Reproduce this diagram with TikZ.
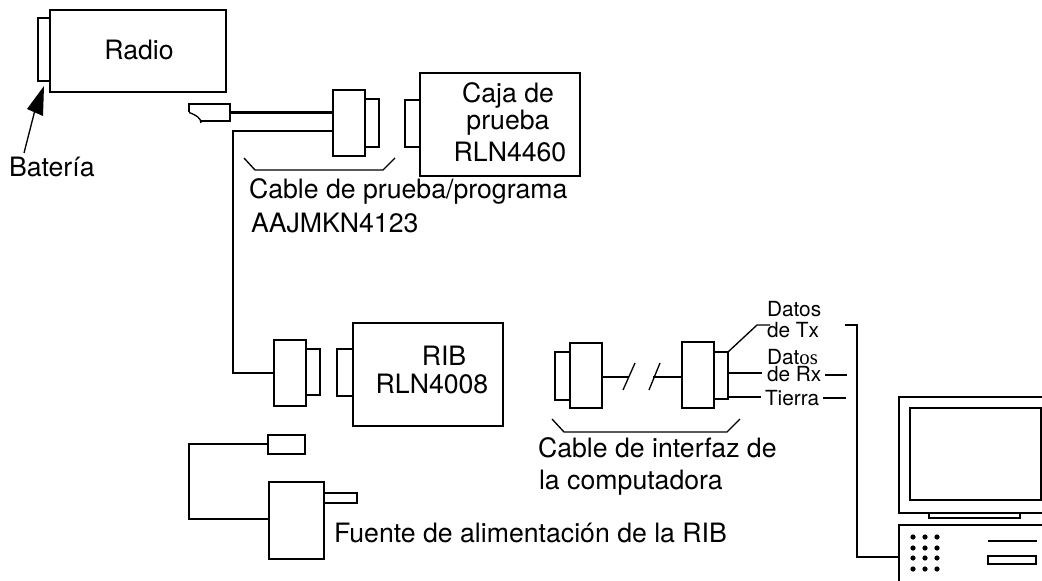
\documentclass[tikz,border=0pt]{standalone}
\usepackage{fontspec}
\setmainfont{TeX Gyre Heros}
\newfontfamily\serifos{Liberation Serif}
\newcommand{\bx}[6][]{%
  \node[boxpart,#1,minimum width={(#5-#3)*0.75pt},minimum height={(#6-#4)*0.75pt}] (#2) at ({(#3+#5)/2},{(#4+#6)/2}) {};}
\tikzset{
  boxpart/.style={draw=black,line width=1.7pt,inner sep=0pt,outer sep=0pt,rectangle},
  wire/.style={draw=black,line width=1.7pt},
  thinwire/.style={draw=black,line width=1.0pt},
  big/.style={font=\fontsize{20}{22}\selectfont,inner sep=0pt,outer sep=0pt},
  small/.style={font=\fontsize{15.6}{18}\selectfont,inner sep=0pt,outer sep=0pt},
  pcdot/.style={fill=black,draw=none}
}
\begin{document}
\begin{tikzpicture}[x=0.75pt,y=-0.75pt,line join=miter]
\useasboundingbox (0,0) rectangle (1042,581);
% radio
\bx{batt}{38}{18}{50}{81}
\bx{radio}{50}{10}{226}{92}
\node[big,anchor=base] (radiot) at (139,60) {Radio};
\node[big,anchor=base west] (batt2) at (9,176) {Batería};
\coordinate (battip) at (44,86);
\fill[black] (battip) -- (27,109) -- (43,116) -- cycle;
\draw[thinwire] (24,153) -- (35,110);
% plug
\bx[draw=none]{plugA}{189}{104}{230}{121}
\draw[wire] (plugA.west) -- (plugA.north west) -- (plugA.north east) -- (plugA.south east) -- (201,121);
\draw[thinwire] (plugA.west) .. controls (196,115) and (201,118) .. (201,123);
% test cable connector
\bx{connA}{333}{90}{365}{156}
\bx{connAs}{365}{99}{379}{147}
\draw[wire] (plugA.east) -- (connA.west |- plugA.east);
\coordinate (j1) at (233,131);
\bx{connB}{274}{340}{306}{406}
\bx{connBs}{306}{349}{320}{395}
\draw[wire] (connA.west |- j1) -- (j1) |- (connB.west);
% test box
\bx{boxtab}{405}{100}{420}{147}
\bx{caja}{420}{73}{580}{176}
\node[big,anchor=base] (caja1) at (508,103) {Caja de};
\node[big,anchor=base] (caja2) at (508,130) {prueba};
\node[big,anchor=base] (caja3) at (510,162) {RLN4460};
\draw[thinwire] (244,158) -- (255,170) -- (383,170) -- (395,158);
\node[big,anchor=base west] (cab1) at (249,199) {Cable de prueba/programa};
\node[big,anchor=base west] (cab2) at (251,232) {AAJMKN4123};
% RIB
\bx{ribtab}{337}{349}{353}{396}
\bx{rib}{353}{323}{503}{426}
\node[big,anchor=base] (rib1) at (444,365) {RIB};
\node[big,anchor=base] (rib2) at (432,393) {RLN4008};
% power
\bx{pplug}{268}{435}{305}{454}
\bx{psu}{269}{482}{324}{559}
\bx{prong}{324}{493}{357}{503}
\coordinate (j2) at (189,444);
\draw[wire] (pplug.west |- j2) -- (j2) |- (psu.west |- 0,519);
\node[big,anchor=base west] (fuente) at (334,542) {Fuente de alimentación de la RIB};
% interface cable
\bx{ifs}{555}{352}{570}{400}
\bx{ifa}{570}{343}{602}{408}
\bx{ifb}{682}{342}{714}{408}
\bx{ifbs}{714}{352}{728}{399}
\coordinate (brk1) at (629,377);
\coordinate (brk2) at (653,377);
\draw[wire] (ifa.east |- brk1) -- (brk1);
\draw[wire] (brk2) -- (ifb.west |- brk2);
\draw[thinwire] (623,390) -- (635,363);
\draw[thinwire] (649,390) -- (660,363);
\draw[thinwire] (552,419) -- (564,432) -- (727,432) -- (740,419);
\node[big,anchor=base west] (if1) at (538,457) {Cable de interfaz de};
\node[big,anchor=base west] (if2) at (539,489) {la computadora};
% signals
\node[small,anchor=base west] (d1) at (767,316) {Datos};
\node[small,anchor=base west] (d2) at (767,337) {de Tx};
\node[small,anchor=base west] (d3) at (767,364) {Dat{\serifos os}};
\node[small,anchor=base west] (d4) at (767,381) {de Rx};
\node[small,anchor=base west] (d5) at (765,405) {Tierra};
\coordinate (txe) at (770,325);
\draw[thinwire] (ifbs.north east) -- (757,325) -- (txe);
\draw[wire] (ifbs.east |- 0,373) -- (762,373);
\draw[wire] (ifbs.east |- 0,397) -- (761,397);
\draw[wire] (825,375) -- (847,375);
\draw[wire] (823,398) -- (846,398);
% computer
\coordinate (pc) at (899,557);
\coordinate (j3) at (857,325);
\draw[wire] (845,325) -- (j3) |- (pc);
\draw[wire] (1042,397) -- (899,397) -- (899,513) -- (1042,513);
\draw[wire] (1041,408) rectangle (910,500);
\draw[wire] (929,513) -- (929,518) -- (1020,518) -- (1020,513);
\draw[wire] (1042,525) -- (899,525) -- (899,581);
\foreach \dx in {913,925,937}
  \foreach \dy in {537,548,558,569}
    \fill[pcdot] (\dx,\dy) circle[radius=2.6];
\draw[wire] (988,541) -- (1037,541);
\draw[wire] (988,556) rectangle (1036,564);
\end{tikzpicture}
\end{document}
